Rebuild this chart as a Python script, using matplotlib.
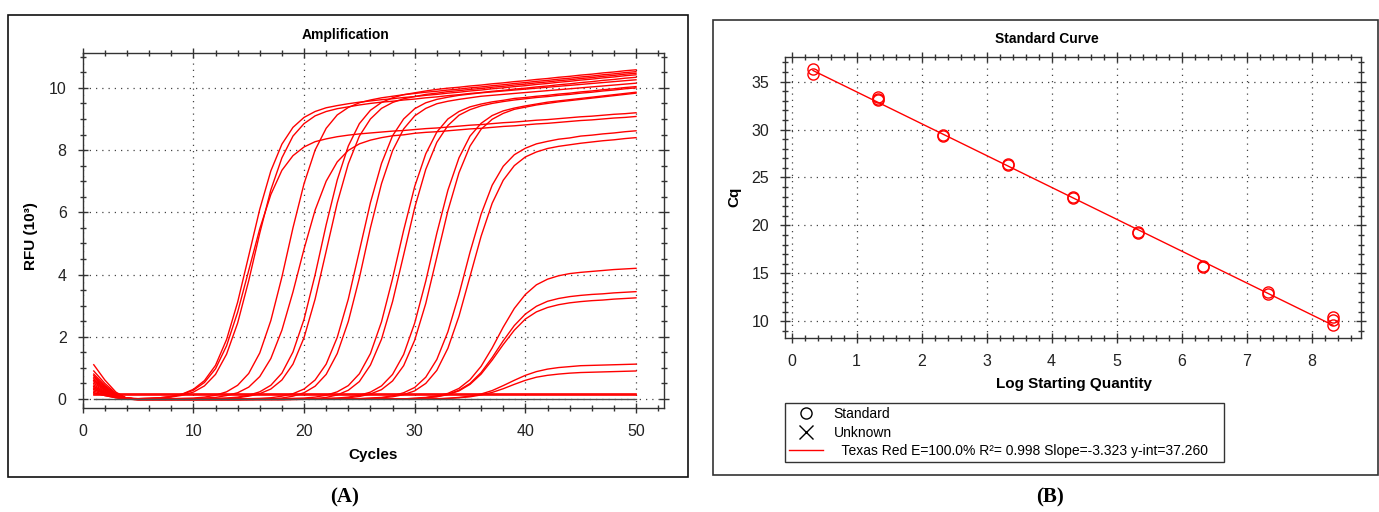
import matplotlib
matplotlib.use("Agg")
import matplotlib.pyplot as plt
from matplotlib.lines import Line2D
from matplotlib.patches import Rectangle
from matplotlib.ticker import MultipleLocator
import numpy as np

plt.rcParams["font.family"] = ["Liberation Sans", "DejaVu Sans"]
TICK_FONT = ["Liberation Sans Narrow", "Liberation Sans", "DejaVu Sans"]

# --- amplification run: RFU (x1000) per cycle, one list per well ---
CYCLES = list(range(1, 51))

WELLS = [
    # 1e8 copies
    [0.90, 0.50, 0.18, 0.02, 0.01, 0.02, 0.04, 0.08, 0.16, 0.31,
     0.59, 1.08, 1.91, 3.11, 4.60, 6.10, 7.33, 8.19, 8.73, 9.05,
     9.24, 9.36, 9.43, 9.49, 9.54, 9.58, 9.62, 9.65, 9.69, 9.72,
     9.76, 9.79, 9.83, 9.86, 9.90, 9.93, 9.97, 10.00, 10.04, 10.07,
     10.11, 10.14, 10.18, 10.21, 10.25, 10.28, 10.32, 10.35, 10.39, 10.42],
    [0.70, 0.39, 0.14, 0.02, 0.01, 0.02, 0.03, 0.06, 0.12, 0.22,
     0.42, 0.79, 1.44, 2.44, 3.80, 5.33, 6.72, 7.75, 8.45, 8.85,
     9.10, 9.24, 9.33, 9.39, 9.45, 9.50, 9.54, 9.57, 9.61, 9.64,
     9.68, 9.71, 9.75, 9.78, 9.82, 9.85, 9.89, 9.92, 9.96, 9.99,
     10.03, 10.06, 10.10, 10.13, 10.17, 10.20, 10.24, 10.27, 10.31, 10.34],
    [0.50, 0.28, 0.10, 0.02, 0.01, 0.02, 0.04, 0.08, 0.15, 0.28,
     0.53, 0.97, 1.71, 2.79, 4.13, 5.47, 6.57, 7.35, 7.82, 8.10,
     8.27, 8.36, 8.43, 8.48, 8.52, 8.55, 8.58, 8.61, 8.63, 8.66,
     8.69, 8.71, 8.74, 8.77, 8.80, 8.82, 8.85, 8.88, 8.90, 8.93,
     8.96, 8.98, 9.01, 9.04, 9.07, 9.09, 9.12, 9.15, 9.17, 9.20],
    # 1e7
    [1.10, 0.61, 0.22, 0.02, 0.00, 0.00, 0.00, 0.01, 0.02, 0.03,
     0.06, 0.12, 0.23, 0.44, 0.82, 1.48, 2.52, 3.92, 5.50, 6.92,
     8.00, 8.70, 9.13, 9.37, 9.52, 9.61, 9.68, 9.73, 9.78, 9.82,
     9.86, 9.89, 9.93, 9.96, 10.00, 10.03, 10.07, 10.10, 10.14, 10.17,
     10.21, 10.24, 10.28, 10.31, 10.35, 10.38, 10.42, 10.45, 10.49, 10.52],
    [0.40, 0.22, 0.08, 0.02, 0.00, 0.00, 0.00, 0.00, 0.01, 0.01,
     0.03, 0.05, 0.11, 0.20, 0.38, 0.72, 1.30, 2.21, 3.44, 4.82,
     6.07, 7.00, 7.62, 7.99, 8.20, 8.32, 8.40, 8.46, 8.49, 8.54,
     8.57, 8.59, 8.62, 8.65, 8.68, 8.70, 8.73, 8.76, 8.78, 8.81,
     8.84, 8.86, 8.89, 8.92, 8.95, 8.97, 9.00, 9.03, 9.05, 9.08],
    # 1e6
    [0.80, 0.44, 0.16, 0.02, 0.00, 0.00, 0.00, 0.00, 0.00, 0.00,
     0.01, 0.02, 0.03, 0.06, 0.12, 0.23, 0.44, 0.83, 1.51, 2.56,
     3.99, 5.60, 7.04, 8.13, 8.85, 9.28, 9.53, 9.68, 9.78, 9.84,
     9.90, 9.95, 9.99, 10.02, 10.06, 10.09, 10.13, 10.16, 10.20, 10.23,
     10.27, 10.30, 10.34, 10.37, 10.41, 10.44, 10.48, 10.51, 10.55, 10.58],
    [0.60, 0.33, 0.12, 0.02, 0.00, 0.00, 0.00, 0.00, 0.00, 0.00,
     0.00, 0.01, 0.02, 0.04, 0.09, 0.17, 0.32, 0.61, 1.12, 1.97,
     3.21, 4.75, 6.30, 7.56, 8.45, 9.00, 9.34, 9.53, 9.65, 9.72,
     9.79, 9.83, 9.88, 9.91, 9.95, 9.98, 10.02, 10.05, 10.09, 10.12,
     10.16, 10.19, 10.23, 10.26, 10.30, 10.33, 10.37, 10.40, 10.44, 10.47],
    # 1e5
    [0.75, 0.41, 0.15, 0.02, 0.00, 0.00, 0.00, 0.00, 0.00, 0.00,
     0.00, 0.00, 0.00, 0.00, 0.01, 0.02, 0.04, 0.09, 0.17, 0.32,
     0.61, 1.12, 1.98, 3.21, 4.76, 6.31, 7.57, 8.46, 9.00, 9.33,
     9.52, 9.63, 9.70, 9.76, 9.80, 9.84, 9.87, 9.90, 9.93, 9.96,
     9.99, 10.02, 10.05, 10.08, 10.11, 10.14, 10.17, 10.20, 10.23, 10.26],
    [0.35, 0.19, 0.07, 0.02, -0.03, -0.03, -0.03, -0.03, -0.03, -0.03,
     -0.03, -0.03, -0.03, -0.03, -0.02, -0.01, 0.00, 0.03, 0.09, 0.20,
     0.41, 0.79, 1.46, 2.49, 3.89, 5.50, 6.92, 7.98, 8.68, 9.10,
     9.34, 9.49, 9.57, 9.63, 9.68, 9.73, 9.76, 9.79, 9.82, 9.85,
     9.88, 9.91, 9.94, 9.97, 10.00, 10.03, 10.06, 10.09, 10.12, 10.15],
    # 1e4
    [0.65, 0.36, 0.13, 0.02, 0.00, 0.00, 0.00, 0.00, 0.00, 0.00,
     0.00, 0.00, 0.00, 0.00, 0.00, 0.00, 0.00, 0.01, 0.02, 0.03,
     0.06, 0.12, 0.23, 0.43, 0.81, 1.46, 2.48, 3.87, 5.42, 6.83,
     7.88, 8.58, 9.00, 9.24, 9.39, 9.48, 9.55, 9.60, 9.66, 9.69,
     9.73, 9.76, 9.80, 9.83, 9.87, 9.90, 9.94, 9.97, 10.01, 10.04],
    [0.30, 0.17, 0.06, 0.00, -0.03, -0.03, -0.03, -0.03, -0.03, -0.03,
     -0.03, -0.03, -0.03, -0.03, -0.03, -0.03, -0.03, -0.03, -0.02, -0.01,
     0.01, 0.05, 0.13, 0.28, 0.56, 1.09, 1.92, 3.13, 4.63, 6.15,
     7.38, 8.25, 8.79, 9.12, 9.30, 9.42, 9.50, 9.56, 9.61, 9.65,
     9.69, 9.72, 9.76, 9.79, 9.83, 9.86, 9.90, 9.93, 9.97, 10.00],
    # 1e3
    [0.55, 0.30, 0.11, 0.02, 0.00, 0.00, 0.00, 0.00, 0.00, 0.00,
     0.00, 0.00, 0.00, 0.00, 0.00, 0.00, 0.00, 0.00, 0.00, 0.00,
     0.01, 0.02, 0.03, 0.06, 0.12, 0.22, 0.42, 0.79, 1.43, 2.44,
     3.79, 5.33, 6.71, 7.75, 8.45, 8.86, 9.11, 9.26, 9.35, 9.42,
     9.48, 9.54, 9.58, 9.62, 9.66, 9.70, 9.74, 9.78, 9.82, 9.86],
    [0.45, 0.25, 0.09, 0.02, 0.00, 0.00, 0.00, 0.00, 0.00, 0.00,
     0.00, 0.00, 0.00, 0.00, 0.00, 0.00, 0.00, 0.00, 0.00, 0.00,
     0.00, 0.01, 0.02, 0.04, 0.08, 0.16, 0.30, 0.58, 1.07, 1.89,
     3.07, 4.56, 6.05, 7.27, 8.13, 8.67, 8.99, 9.18, 9.31, 9.38,
     9.45, 9.50, 9.55, 9.59, 9.63, 9.67, 9.71, 9.75, 9.79, 9.83],
    # 1e2
    [0.40, 0.22, 0.08, 0.02, 0.00, 0.00, 0.00, 0.00, 0.00, 0.00,
     0.00, 0.00, 0.00, 0.00, 0.00, 0.00, 0.00, 0.00, 0.00, 0.00,
     0.00, 0.00, 0.00, 0.01, 0.01, 0.03, 0.05, 0.10, 0.20, 0.37,
     0.70, 1.27, 2.16, 3.36, 4.72, 5.94, 6.87, 7.48, 7.85, 8.06,
     8.20, 8.28, 8.35, 8.39, 8.45, 8.48, 8.52, 8.55, 8.59, 8.62],
    [0.25, 0.14, 0.05, 0.00, 0.00, 0.00, 0.00, 0.00, 0.00, 0.00,
     0.00, 0.00, 0.00, 0.00, 0.00, 0.00, 0.00, 0.00, 0.00, 0.00,
     0.00, 0.00, 0.00, 0.00, 0.01, 0.02, 0.04, 0.07, 0.14, 0.26,
     0.50, 0.92, 1.63, 2.66, 3.94, 5.23, 6.29, 7.03, 7.50, 7.78,
     7.94, 8.05, 8.12, 8.17, 8.22, 8.26, 8.30, 8.33, 8.37, 8.40],
    # 1e1
    [0.35, 0.19, 0.07, 0.02, 0.00, 0.00, 0.00, 0.00, 0.00, 0.00,
     0.00, 0.00, 0.00, 0.00, 0.00, 0.00, 0.00, 0.00, 0.00, 0.00,
     0.00, 0.00, 0.00, 0.00, 0.00, 0.00, 0.00, 0.00, 0.00, 0.03,
     0.05, 0.10, 0.18, 0.34, 0.62, 1.05, 1.64, 2.31, 2.91, 3.36,
     3.67, 3.85, 3.96, 4.03, 4.07, 4.10, 4.13, 4.16, 4.18, 4.20],
    [0.20, 0.11, 0.04, 0.00, 0.00, 0.00, 0.00, 0.00, 0.00, 0.00,
     0.00, 0.00, 0.00, 0.00, 0.00, 0.00, 0.00, 0.00, 0.00, 0.00,
     0.00, 0.00, 0.00, 0.00, 0.00, 0.00, 0.00, 0.00, 0.00, 0.00,
     0.04, 0.08, 0.15, 0.28, 0.50, 0.85, 1.33, 1.87, 2.36, 2.73,
     2.98, 3.14, 3.23, 3.29, 3.33, 3.36, 3.38, 3.41, 3.43, 3.45],
    [0.30, 0.17, 0.06, 0.00, 0.00, 0.00, 0.00, 0.00, 0.00, 0.00,
     0.00, 0.00, 0.00, 0.00, 0.00, 0.00, 0.00, 0.00, 0.00, 0.00,
     0.00, 0.00, 0.00, 0.00, 0.00, 0.00, 0.00, 0.00, 0.00, 0.00,
     0.04, 0.07, 0.14, 0.26, 0.47, 0.80, 1.25, 1.75, 2.21, 2.57,
     2.80, 2.94, 3.03, 3.09, 3.13, 3.16, 3.18, 3.21, 3.23, 3.25],
    # 1e0
    [0.60, 0.33, 0.12, 0.02, 0.00, 0.00, 0.00, 0.00, 0.00, 0.00,
     0.00, 0.00, 0.00, 0.00, 0.00, 0.00, 0.00, 0.00, 0.00, 0.00,
     0.00, 0.00, 0.00, 0.00, 0.00, 0.00, 0.00, 0.00, 0.00, 0.00,
     0.00, 0.01, 0.02, 0.05, 0.09, 0.16, 0.27, 0.43, 0.60, 0.76,
     0.88, 0.96, 1.01, 1.04, 1.07, 1.08, 1.09, 1.10, 1.11, 1.12],
    [0.20, 0.11, 0.04, 0.00, 0.00, 0.00, 0.00, 0.00, 0.00, 0.00,
     0.00, 0.00, 0.00, 0.00, 0.00, 0.00, 0.00, 0.00, 0.00, 0.00,
     0.00, 0.00, 0.00, 0.00, 0.00, 0.00, 0.00, 0.00, 0.00, 0.00,
     0.00, 0.00, 0.02, 0.04, 0.07, 0.13, 0.21, 0.33, 0.47, 0.60,
     0.70, 0.76, 0.80, 0.83, 0.85, 0.86, 0.87, 0.88, 0.89, 0.90],
]

# no-template wells stay flat
NTC_RED = [[0.16] * 50, [0.14] * 50]
NTC_DARK = [0.0] * 50

# --- standard curve: log starting quantity vs Cq ---
LOG_SQ = [0.33, 0.33, 1.33, 1.33, 1.33, 2.33, 2.33, 3.33, 3.33, 4.33,
          4.33, 5.33, 5.33, 6.33, 6.33, 7.33, 7.33, 8.33, 8.33, 8.33]
CQ = [36.3, 35.8, 33.4, 33.2, 33.1, 29.4, 29.3, 26.4, 26.3, 23.0,
      22.9, 19.3, 19.2, 15.8, 15.7, 13.0, 12.8, 10.4, 10.1, 9.6]

EFFICIENCY = 100.0
R_SQUARED = 0.998
SLOPE = -3.323
Y_INTERCEPT = 37.260

W, H = 1379, 512
RED = "#ff0000"
FRAME = "#333333"
GRID = dict(linestyle=(0, (1, 4)), color="#444444", linewidth=0.9)


def px(x0, y0, x1, y1):
    """pixel box (top-left origin) -> figure rect"""
    return [x0 / W, 1 - y1 / H, (x1 - x0) / W, (y1 - y0) / H]


def style_axes(ax):
    for sp in ax.spines.values():
        sp.set_color(FRAME)
        sp.set_linewidth(1.0)
    ax.tick_params(which="both", direction="inout", top=True, right=True,
                   colors=FRAME, labelcolor="#222222", labelsize=11.5,
                   labelfontfamily=TICK_FONT)
    ax.tick_params(which="major", length=7, width=1.0, pad=8)
    ax.tick_params(which="minor", length=5, width=1.0)
    ax.grid(True, which="major", **GRID)
    ax.set_axisbelow(True)


fig = plt.figure(figsize=(W / 100, H / 100), dpi=100)

# panel frames
fig.patches.append(Rectangle((8 / W, 1 - 477 / H), 680 / W, 462 / H,
                             transform=fig.transFigure, fill=False,
                             edgecolor="#111111", linewidth=1.2))
fig.patches.append(Rectangle((713 / W, 1 - 475 / H), 665 / W, 455 / H,
                             transform=fig.transFigure, fill=False,
                             edgecolor="#333333", linewidth=1.2))

# ---------- (A) amplification ----------
ax_a = fig.add_axes(px(82.7, 52.7, 663.7, 408))
for rfu in WELLS:
    ax_a.plot(CYCLES, rfu, color=RED, linewidth=1.0)
for rfu in NTC_RED:
    ax_a.plot(CYCLES, rfu, color=RED, linewidth=1.2)
ax_a.plot(CYCLES, NTC_DARK, color="#505050", linewidth=1.0)

ax_a.set_xlim(0, 52.5)
ax_a.set_ylim(-0.29, 11.13)
ax_a.xaxis.set_major_locator(MultipleLocator(10))
ax_a.xaxis.set_minor_locator(MultipleLocator(2))
ax_a.yaxis.set_major_locator(MultipleLocator(2))
ax_a.yaxis.set_minor_locator(MultipleLocator(0.5))
style_axes(ax_a)
ax_a.set_xlabel("Cycles", fontsize=11, fontweight="bold")
ax_a.set_ylabel("RFU (10³)", fontsize=11, fontweight="bold")
ax_a.xaxis.set_label_coords(0.5, -0.132)
ax_a.xaxis.label.set_va("center")
ax_a.yaxis.set_label_coords(-0.089, 0.484)
ax_a.yaxis.label.set_va("center")
fig.text(346 / W, 1 - 35 / H, "Amplification", fontsize=10,
         fontweight="bold", ha="center", va="center")

# ---------- (B) standard curve ----------
ax_b = fig.add_axes(px(785, 56.7, 1361, 338.3))
fit_x = np.array([min(LOG_SQ), max(LOG_SQ)])
ax_b.plot(fit_x, SLOPE * fit_x + Y_INTERCEPT, color=RED, linewidth=1.0)
ax_b.plot(LOG_SQ, CQ, linestyle="none", marker="o", markersize=8,
          markerfacecolor="none", markeredgecolor=RED, markeredgewidth=1.0)

ax_b.set_xlim(-0.1, 8.76)
ax_b.set_ylim(8.22, 37.6)
ax_b.xaxis.set_major_locator(MultipleLocator(1))
ax_b.xaxis.set_minor_locator(MultipleLocator(0.2))
ax_b.yaxis.set_major_locator(MultipleLocator(5))
ax_b.yaxis.set_minor_locator(MultipleLocator(1))
style_axes(ax_b)
ax_b.set_xlabel("Log Starting Quantity", fontsize=11, fontweight="bold")
ax_b.set_ylabel("Cq", fontsize=11, fontweight="bold")
ax_b.xaxis.set_label_coords(0.501, -0.162)
ax_b.xaxis.label.set_va("center")
ax_b.yaxis.set_label_coords(-0.0885, 0.502)
ax_b.yaxis.label.set_va("center")
fig.text(1047 / W, 1 - 39 / H, "Standard Curve", fontsize=10,
         fontweight="bold", ha="center", va="center")

handles = [
    Line2D([], [], linestyle="none", marker="o", markersize=8,
           markerfacecolor="none", markeredgecolor="black"),
    Line2D([], [], linestyle="none", marker="x", markersize=10,
           markeredgecolor="black", markeredgewidth=1.0),
    Line2D([], [], color=RED, linewidth=1.0),
]
labels = [
    "Standard",
    "Unknown",
    f"  Texas Red E={EFFICIENCY:.1f}% R²= {R_SQUARED:.3f} "
    f"Slope={SLOPE:.3f} y-int={Y_INTERCEPT:.3f}",
]
leg = ax_b.legend(handles, labels, loc="upper left",
                  bbox_to_anchor=px(785, 403, 1224, 464),
                  bbox_transform=fig.transFigure, mode="expand",
                  borderaxespad=0, fancybox=False, framealpha=1,
                  edgecolor="#333333", fontsize=10, handlelength=2.4,
                  labelspacing=0.32, borderpad=0.3)
leg.get_frame().set_linewidth(1.0)

# panel captions
fig.text(345 / W, 1 - 497 / H, "(A)", fontsize=15, fontweight="bold",
         family=["Liberation Serif", "DejaVu Serif"], ha="center", va="center")
fig.text(1050 / W, 1 - 497 / H, "(B)", fontsize=15, fontweight="bold",
         family=["Liberation Serif", "DejaVu Serif"], ha="center", va="center")

fig.savefig("out.png", dpi=100, facecolor="white")
